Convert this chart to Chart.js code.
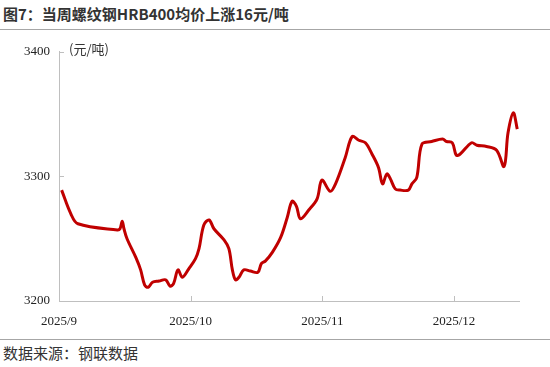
<!DOCTYPE html>
<html>
<head>
<meta charset="utf-8">
<script src="https://cdn.jsdelivr.net/npm/chart.js@4/dist/chart.umd.min.js"></script>
<style>
  body { margin: 0; width: 550px; height: 367px; background: #fff; position: relative; overflow: hidden; }
  #title { position: absolute; left: 3px; top: 3px; font: bold 15px "Noto Sans CJK SC", sans-serif; color: #333; white-space: nowrap; }
  #topLine { position: absolute; left: 0; top: 29px; width: 550px; height: 0; border-top: 1px solid #a6a6a6; }
  #unit { position: absolute; left: 69px; top: 39px; font: 13px "Noto Sans CJK SC", sans-serif; color: #333; }
  #bottomLine { position: absolute; left: 0; top: 339px; width: 550px; height: 0; border-top: 1px solid #a6a6a6; }
  #source { position: absolute; left: 3px; top: 342px; font: 15px "Noto Sans CJK SC", serif; color: #333; white-space: nowrap; }
  #wrap { position: absolute; left: 0; top: 35px; width: 550px; height: 296px; }
</style>
</head>
<body>
<div id="title">图7：当周螺纹钢HRB400均价上涨16元/吨</div>
<div id="topLine"></div>
<div id="wrap"><canvas id="priceChart"></canvas></div>
<div id="unit">(元/吨)</div>
<div id="bottomLine"></div>
<div id="source">数据来源：钢联数据</div>
<script>
// days since 2025/9/1 (each month drawn as 30 days on the axis)
const days = [
  0.6, 2.7, 4.3, 13.3, 13.9, 14.4, 14.8, 15.5, 17.5, 18.6, 19.5, 20.3, 21.3, 22.8, 24.3, 25.3,
  26.1, 27.1, 28.1, 29.6, 31.1, 31.9, 33.0, 34.2, 35.3, 37.6, 38.7, 39.5, 40.2, 41.0, 42.1, 43.6,
  45.3, 46.1, 47.0, 48.6, 50.5, 52.0, 53.1, 54.1, 55.0, 56.9, 58.8, 59.9, 61.8, 63.0, 65.2, 66.8,
  68.3, 69.8, 71.3, 72.8, 73.7, 74.7, 75.5, 76.6, 77.7, 79.6, 80.4, 81.5, 82.7, 84.9, 87.4, 88.3,
  89.6, 90.5, 91.4, 94.0, 95.2, 97.4, 99.7, 101.4, 102.3, 103.5, 104.4
];
// HRB400 rebar average price, yuan/ton
const prices = [
  3289, 3270, 3262, 3257, 3258, 3264, 3258, 3250, 3235, 3225, 3213, 3211, 3215, 3216, 3217, 3212,
  3214, 3225, 3219, 3226, 3234, 3242, 3261, 3265, 3258, 3249, 3242, 3225, 3217, 3219, 3225, 3224,
  3223, 3230, 3232, 3239, 3251, 3267, 3280, 3276, 3266, 3273, 3282, 3297, 3288, 3294, 3315, 3332,
  3329, 3327, 3318, 3307, 3294, 3302, 3298, 3290, 3289, 3289, 3294, 3299, 3326, 3328, 3330, 3328,
  3327, 3317, 3318, 3327, 3325, 3324, 3321, 3308, 3335, 3351, 3338
];
const monthTicks = [0, 30, 60, 90];
const monthLabels = ['2025/9', '2025/10', '2025/11', '2025/12'];
const yTicks = [3200, 3300, 3400];

const axisColor = '#bfbfbf';
const labelFont = { family: '"Liberation Serif", "Times New Roman", serif', size: 13 };

// small tick marks pointing into the plot
const innerTicks = {
  id: 'innerTicks',
  afterDraw(chart) {
    const { ctx, chartArea, scales } = chart;
    ctx.save();
    ctx.strokeStyle = axisColor;
    ctx.lineWidth = 1;
    ctx.beginPath();
    yTicks.forEach(v => {
      const y = Math.round(scales.y.getPixelForValue(v)) + 0.5;
      ctx.moveTo(chartArea.left, y);
      ctx.lineTo(chartArea.left + 5, y);
    });
    monthTicks.forEach(v => {
      const x = Math.round(scales.x.getPixelForValue(v)) + 0.5;
      ctx.moveTo(x, chartArea.bottom);
      ctx.lineTo(x, chartArea.bottom - 5);
    });
    ctx.stroke();
    ctx.restore();
  }
};

new Chart(document.getElementById('priceChart'), {
  type: 'line',
  data: {
    datasets: [{
      data: days.map((d, i) => ({ x: d, y: prices[i] })),
      borderColor: '#C00000',
      borderWidth: 3,
      pointRadius: 0,
      tension: 0.35,
      fill: false
    }]
  },
  options: {
    responsive: true,
    maintainAspectRatio: false,
    animation: false,
    layout: { padding: { top: 13.5, right: 31, left: 0, bottom: 0 } },
    plugins: { legend: { display: false }, tooltip: { enabled: false } },
    scales: {
      x: {
        type: 'linear',
        min: 0,
        max: 104.8,
        afterBuildTicks: scale => { scale.ticks = monthTicks.map(v => ({ value: v })); },
        afterFit: scale => { scale.height = 30; },
        grid: { display: false, drawTicks: false },
        border: { display: true, color: axisColor, width: 1 },
        ticks: {
          padding: 13,
          color: '#222',
          font: labelFont,
          maxRotation: 0,
          callback: v => monthLabels[monthTicks.indexOf(v)]
        }
      },
      y: {
        min: 3200,
        max: 3400,
        afterBuildTicks: scale => { scale.ticks = yTicks.map(v => ({ value: v })); },
        afterFit: scale => { scale.width = 59; },
        grid: { display: false, drawTicks: false },
        border: { display: true, color: axisColor, width: 1 },
        ticks: { padding: 9, color: '#222', font: labelFont, callback: v => String(v) }
      }
    }
  },
  plugins: [innerTicks]
});
</script>
</body>
</html>
